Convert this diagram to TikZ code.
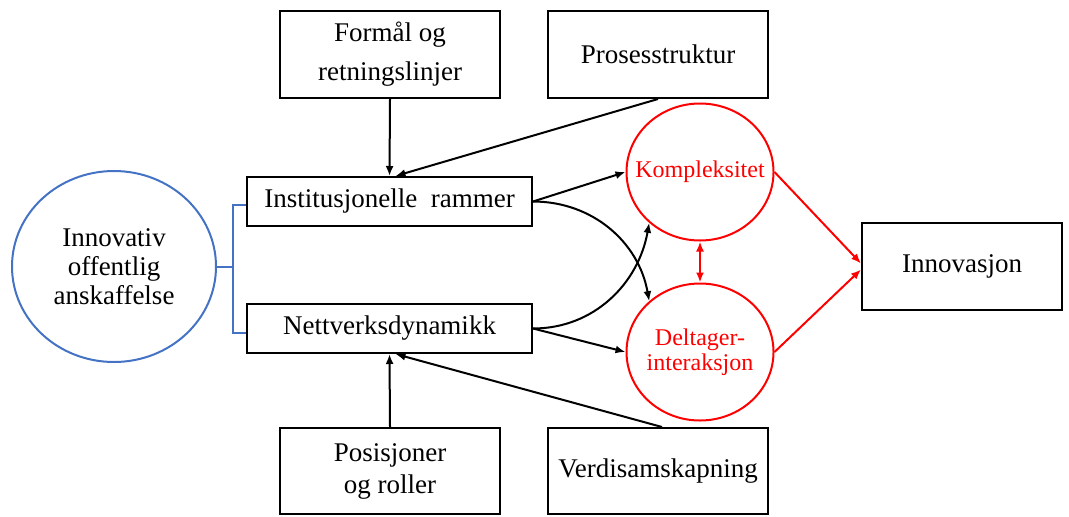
\documentclass[tikz,border=0pt]{standalone}
\usepackage{fontspec}
\setmainfont{Liberation Serif}
\usetikzlibrary{arrows.meta,shapes.geometric}
\definecolor{ramblue}{HTML}{4472C4}
\definecolor{ramred}{HTML}{FF0000}
\newcommand{\nullbredde}[1]{\makebox[0pt]{#1}}

\begin{document}
\begin{tikzpicture}[x=0.5pt,y=0.5pt,
			box/.style={
				draw,
				line width = 1pt,
				inner sep = 0pt,
				align = center,
				font = \fontsize{13.5}{16}\selectfont},
			fak/.style={
				ellipse,
				draw = ramred,
				line width = 1pt,
				text = ramred,
				inner sep = 0pt,
				align = center,
				minimum width = 73.5pt,
				minimum height = 68.5pt,
				font = \fontsize{12}{12.5}\selectfont},
			pil/.style={-{Latex[length=5pt,width=4pt]}, line width=1pt},
			rodpil/.style={pil, draw=ramred}]
			\useasboundingbox (0, 0) rectangle (1069, 516);
			% venstre side
			\node (anskaffelse) at (114, 249.5) [ellipse, draw=ramblue, line width=1pt,
				minimum width=102pt, minimum height=95.5pt, inner sep=0pt, align=center,
				font=\fontsize{13.5}{14.5}\selectfont] {Innovativ\\offentlig\\anskaffelse};
			\node (inst) at (389.5, 314.5) [box, minimum width=142.5pt, minimum height=24.5pt] {Institusjonelle\ \ rammer};
			\node (nett) at (389.5, 187.5) [box, minimum width=142.5pt, minimum height=24.5pt] {Nettverksdynamikk};
			\node (formaal) at (390, 461.5) [box, minimum width=110pt, minimum height=43.5pt,
				font=\fontsize{13.5}{19.5}\selectfont] {Formål og\\retningslinjer};
			\node (prosess) at (658, 461.5) [box, minimum width=110pt, minimum height=43.5pt] {Prosesstruktur};
			\node (posisjon) at (390, 45) [box, minimum width=110pt, minimum height=43pt] {Posisjoner\\og roller};
			\node (verdi) at (658, 45) [box, minimum width=110pt, minimum height=43pt] {Verdisamskapning};
			% faktorer og utfall
			\node (kompleks) at (700, 344) [fak] {\nullbredde{Kompleksitet}};
			\node (deltager) at (700, 164) [fak] {\nullbredde{Deltager-}\\\nullbredde{interaksjon}};
			\node (innovasjon) at (962, 249.5) [box, minimum width=100pt, minimum height=43.5pt] {Innovasjon};
			% klamme
			\coordinate (brk) at (233, 249.5);
			\draw[ramblue, line width=1pt] ([yshift=-1.75pt]inst.west) -| (brk) |- ([yshift=-2.25pt]nett.west);
			\draw[ramblue, line width=1pt] (anskaffelse.east) -- (brk);
			% piler
			\draw[pil] (formaal.south) -- (inst.north);
			\draw[pil] (prosess.south) -- ([xshift=3pt]inst.north);
			\draw[pil] (posisjon.north) -- (nett.south);
			\draw[pil] ([xshift=2pt]verdi.north) -- ([xshift=3pt]nett.south);
			\draw[pil] (inst.east) -- (kompleks.west);
			\draw[pil] (inst.east) to[out=0, in=100] (deltager.135);
			\draw[pil] (nett.east) to[out=0, in=-100] (kompleks.225);
			\draw[pil] (nett.east) -- (deltager.west);
			\draw[rodpil, {Latex[length=5pt,width=4pt]}-{Latex[length=5pt,width=4pt]}] (kompleks.south) -- (deltager.north);
			\draw[rodpil] (kompleks.east) -- ([yshift=1.5pt]innovasjon.west);
			\draw[rodpil] (deltager.east) -- ([yshift=-1.5pt]innovasjon.west);
			\end{tikzpicture}
\end{document}
